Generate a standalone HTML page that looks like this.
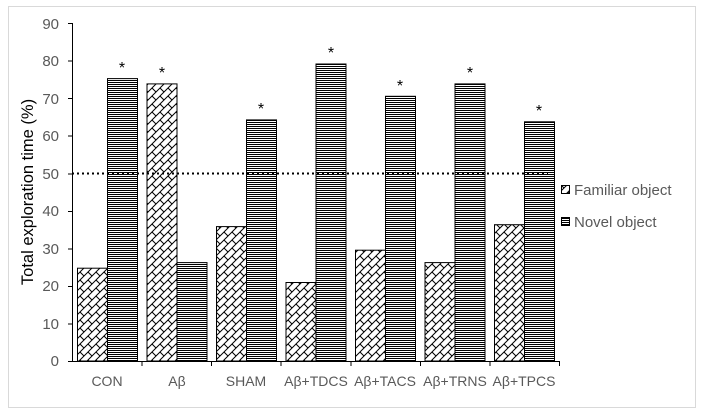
<!DOCTYPE html>
<html><head><meta charset="utf-8"><style>body{margin:0;background:#fff}svg{display:block}</style></head><body>
<svg width="704" height="415" viewBox="0 0 704 415" xmlns="http://www.w3.org/2000/svg" font-family="Liberation Sans, sans-serif">
<defs>
<pattern id="hx" width="8" height="8" patternUnits="userSpaceOnUse">
<path d="M0 8 L8 0 M-2 2 L2 -2 M6 10 L10 6" stroke="#000" stroke-width="1"/>
<path d="M0 0 L4 4" stroke="#000" stroke-width="1"/>
</pattern>
<pattern id="hz" width="4" height="2" patternUnits="userSpaceOnUse">
<rect width="4" height="1" fill="#000"/>
</pattern>
</defs>
<rect x="8.5" y="6.5" width="687" height="401" fill="#fff" stroke="#d9d9d9"/>
<g fill="#595959" font-size="15" text-anchor="end">
<text x="59" y="366">0</text><text x="59" y="329">10</text><text x="59" y="291">20</text><text x="59" y="254">30</text><text x="59" y="216">40</text><text x="59" y="179">50</text><text x="59" y="141">60</text><text x="59" y="104">70</text><text x="59" y="66">80</text><text x="59" y="29">90</text>
</g>
<text transform="translate(33,192) rotate(-90)" font-size="16.5" fill="#000" text-anchor="middle">Total exploration time (%)</text>
<g stroke="#000" stroke-width="1">
<line x1="72.5" y1="23" x2="72.5" y2="361"/>
<line x1="68" y1="361.5" x2="560" y2="361.5"/>
<g>
<line x1="68" y1="23.5" x2="72" y2="23.5"/><line x1="68" y1="61" x2="72" y2="61"/><line x1="68" y1="98.5" x2="72" y2="98.5"/><line x1="68" y1="136" x2="72" y2="136"/><line x1="68" y1="174" x2="72" y2="174"/><line x1="68" y1="211.5" x2="72" y2="211.5"/><line x1="68" y1="249" x2="72" y2="249"/><line x1="68" y1="286.5" x2="72" y2="286.5"/><line x1="68" y1="324" x2="72" y2="324"/>
</g>
<line x1="142" y1="361" x2="142" y2="366"/><line x1="211.5" y1="361" x2="211.5" y2="366"/><line x1="281" y1="361" x2="281" y2="366"/><line x1="351" y1="361" x2="351" y2="366"/><line x1="420.5" y1="361" x2="420.5" y2="366"/><line x1="490" y1="361" x2="490" y2="366"/><line x1="559.5" y1="361" x2="559.5" y2="366"/>
</g>
<g stroke="#000" stroke-width="1">
<rect x="77.5" y="268.2" width="30" height="92.8" fill="url(#hx)"/>
<rect x="107.5" y="78.6" width="30" height="282.4" fill="url(#hz)"/>
<rect x="147" y="83.9" width="30" height="277.1" fill="url(#hx)"/>
<rect x="177" y="262.6" width="30" height="98.4" fill="url(#hz)"/>
<rect x="216.5" y="226.6" width="30" height="134.4" fill="url(#hx)"/>
<rect x="246.5" y="119.9" width="30" height="241.1" fill="url(#hz)"/>
<rect x="286" y="282.5" width="30" height="78.5" fill="url(#hx)"/>
<rect x="316" y="64" width="30" height="297" fill="url(#hz)"/>
<rect x="355.5" y="250.2" width="30" height="110.8" fill="url(#hx)"/>
<rect x="385.5" y="96.3" width="30" height="264.7" fill="url(#hz)"/>
<rect x="425" y="262.6" width="30" height="98.4" fill="url(#hx)"/>
<rect x="455" y="83.9" width="30" height="277.1" fill="url(#hz)"/>
<rect x="494.5" y="224.7" width="30" height="136.3" fill="url(#hx)"/>
<rect x="524.5" y="121.8" width="30" height="239.2" fill="url(#hz)"/>
</g>
<line x1="72" y1="173.5" x2="548" y2="173.5" stroke="#000" stroke-width="2" stroke-dasharray="2,3"/>
<g font-size="16" text-anchor="middle" fill="#000">
<text x="122" y="73">*</text><text x="162" y="78">*</text><text x="261" y="114">*</text><text x="331" y="58">*</text><text x="400" y="91">*</text><text x="470" y="78">*</text><text x="539" y="116">*</text>
</g>
<g fill="#595959" font-size="14" text-anchor="middle">
<text x="107" y="386">CON</text><text x="177" y="386">Aβ</text><text x="246" y="386">SHAM</text><text x="316" y="386">Aβ+TDCS</text><text x="385" y="386">Aβ+TACS</text><text x="455" y="386">Aβ+TRNS</text><text x="524" y="386">Aβ+TPCS</text>
</g>
<rect x="561.5" y="185.5" width="8" height="8" fill="url(#hx)" stroke="#000"/>
<rect x="561.5" y="217.5" width="8" height="8" fill="url(#hz)" stroke="#000"/>
<g fill="#595959" font-size="15">
<text x="574" y="195">Familiar object</text><text x="574" y="227">Novel object</text>
</g>
</svg>
</body></html>
